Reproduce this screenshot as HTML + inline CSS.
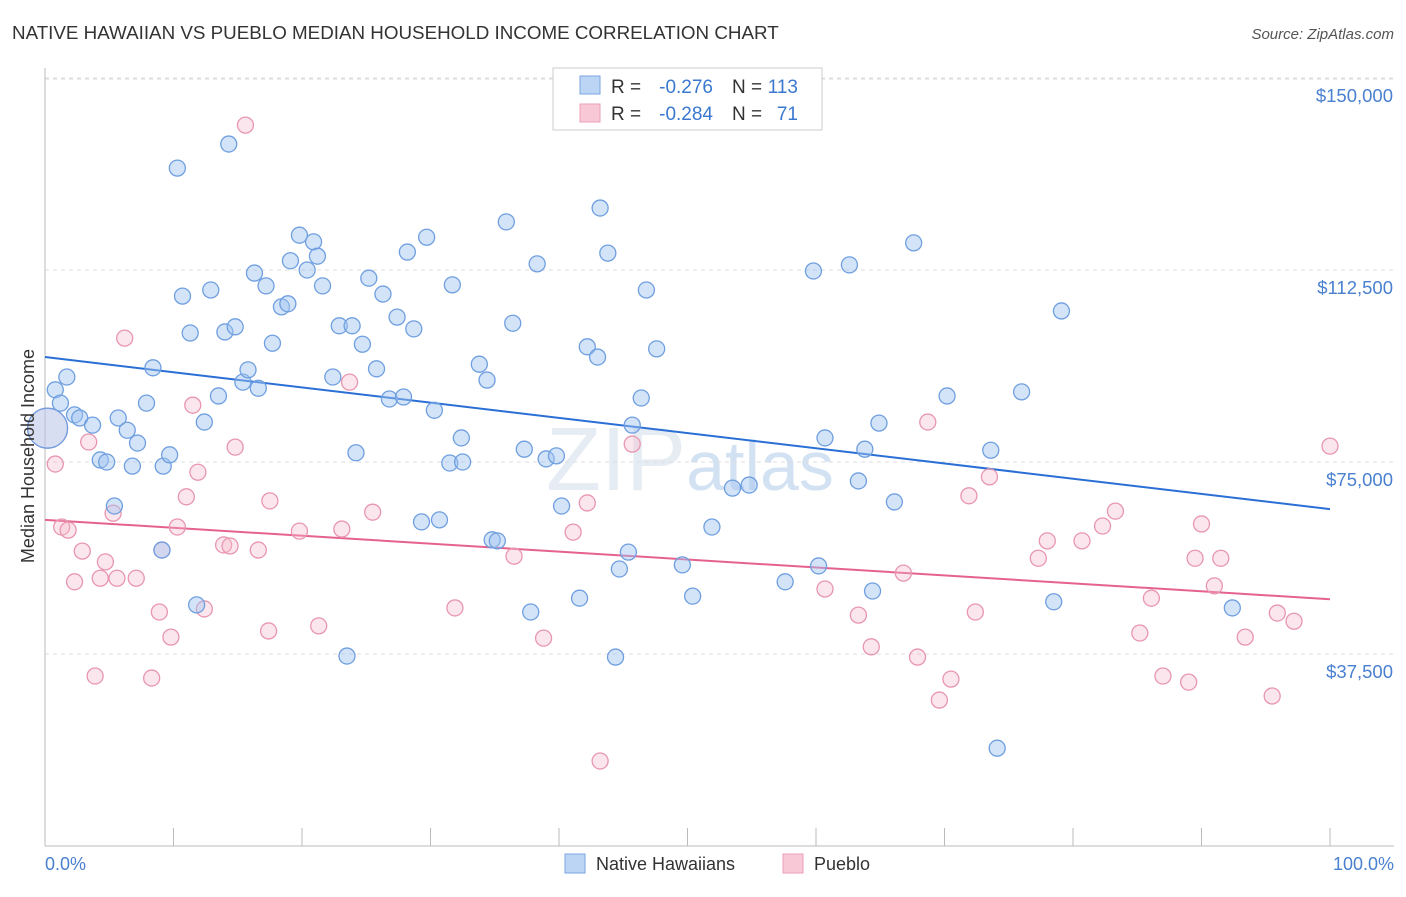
<!DOCTYPE html>
<html><head><meta charset="utf-8"><style>
body{margin:0;background:#fff;font-family:"Liberation Sans",sans-serif;}
svg text{font-family:"Liberation Sans",sans-serif;}
</style></head><body>
<svg id="chart" width="1406" height="892" xmlns="http://www.w3.org/2000/svg">
<text x="12" y="39" font-size="18.8" fill="#333">NATIVE HAWAIIAN VS PUEBLO MEDIAN HOUSEHOLD INCOME CORRELATION CHART</text>
<text x="1394" y="39" font-size="15" fill="#555" text-anchor="end" font-style="italic">Source: ZipAtlas.com</text>
<text x="690" y="490" font-size="90" fill="#e6ecf3" text-anchor="middle" font-family="Liberation Serif">ZIP<tspan font-family="Liberation Sans" font-size="70" fill="#d3e2f3">atlas</tspan></text>
<g id="grid"></g>
<g id="axes"></g>
<g id="lines"></g>
<g id="points"></g>
<text transform="translate(34,456) rotate(-90)" font-size="18" fill="#333" text-anchor="middle">Median Household Income</text>
<text x="45" y="870" font-size="18" fill="#4a80d0">0.0%</text>
<text x="1394" y="870" font-size="18" fill="#4a80d0" text-anchor="end">100.0%</text>
<g>
<rect x="553" y="68" width="269" height="62" fill="#fff" stroke="#ccc"/>
<rect x="580" y="76" width="20" height="18" fill="#bcd5f5" stroke="#7aa6e0"/>
<rect x="580" y="104" width="20" height="18" fill="#f9c8d6" stroke="#eba0b8"/>
<text x="611" y="93" font-size="19" fill="#333">R =</text>
<text x="713" y="93" font-size="19" fill="#3a78d0" text-anchor="end">-0.276</text>
<text x="732" y="93" font-size="19" fill="#333">N =</text>
<text x="798" y="93" font-size="19" fill="#3a78d0" text-anchor="end">113</text>
<text x="611" y="120" font-size="19" fill="#333">R =</text>
<text x="713" y="120" font-size="19" fill="#3a78d0" text-anchor="end">-0.284</text>
<text x="732" y="120" font-size="19" fill="#333">N =</text>
<text x="798" y="120" font-size="19" fill="#3a78d0" text-anchor="end">71</text>
</g>
<g>
<rect x="565" y="854" width="20" height="19" fill="#bcd5f5" stroke="#7aa6e0"/>
<text x="596" y="870" font-size="18" fill="#333">Native Hawaiians</text>
<rect x="783" y="854" width="20" height="19" fill="#f9c8d6" stroke="#eba0b8"/>
<text x="814" y="870" font-size="18" fill="#333">Pueblo</text>
</g>
</svg>
<script>
const yTicks=[37500,75000,112500,150000];
const yTickLabels=["$37,500","$75,000","$112,500","$150,000"];
const xTicks=[0,10,20,30,40,50,60,70,80,90,100];
const blueX=[0.2,0.8,1.7,1.2,2.3,2.7,3.7,4.3,4.8,5.4,5.7,6.4,6.8,7.2,7.9,8.4,9.2,9.1,9.7,10.3,10.7,11.3,11.8,12.4,12.9,13.5,14.0,14.3,14.8,15.4,15.8,16.3,16.6,17.2,17.7,18.4,18.9,19.1,19.8,20.4,20.9,21.2,21.6,22.4,22.9,23.5,23.9,24.2,24.7,25.2,25.8,26.3,26.8,27.4,27.9,28.2,28.7,29.3,29.7,30.3,30.7,31.7,31.5,32.4,32.5,33.8,34.4,34.8,35.2,35.9,36.4,37.3,37.8,38.3,39.0,39.8,40.2,41.6,42.2,43.0,43.2,43.8,44.7,45.4,45.7,46.4,46.8,47.6,44.4,49.6,50.4,51.9,53.5,54.8,57.6,59.8,60.2,60.7,62.6,63.3,63.8,64.4,64.9,66.1,67.6,70.2,73.6,74.1,76.0,78.5,79.1,92.4];
const blueY=[81.6,89.1,91.6,86.5,84.2,83.6,82.2,75.4,75.0,66.4,83.6,81.2,74.2,78.7,86.5,93.4,74.2,57.8,76.4,132.4,107.4,100.2,47.1,82.8,108.6,87.9,100.4,137.1,101.4,90.6,93.0,111.9,89.4,109.4,98.2,105.3,105.9,114.3,119.3,112.5,118.0,115.2,109.4,91.6,101.6,37.1,101.6,76.8,98.0,110.9,93.2,107.8,87.3,103.3,87.7,116.0,101.0,63.3,118.9,85.1,63.7,109.6,74.8,79.7,75.0,94.1,91.0,59.8,59.6,121.9,102.1,77.5,45.7,113.7,75.6,76.2,66.4,48.4,97.5,95.5,124.6,115.8,54.1,57.4,82.2,87.5,108.6,97.1,36.9,54.9,48.8,62.3,69.9,70.5,51.6,112.3,54.7,79.7,113.5,71.3,77.5,49.8,82.6,67.2,117.8,87.9,77.3,19.1,88.7,47.7,104.5,46.5];
const pinkX=[0.2,0.8,1.3,1.8,2.3,2.9,3.4,3.9,4.3,4.7,5.3,5.6,6.2,7.1,8.3,8.9,9.1,9.8,10.3,11.0,11.5,11.9,12.4,13.9,14.4,14.8,15.6,16.6,17.4,17.5,19.8,21.3,23.1,23.7,25.5,31.9,36.5,38.8,41.1,42.2,43.2,45.7,60.7,63.3,64.3,66.8,67.9,68.7,69.6,70.5,71.9,72.4,73.5,77.3,78.0,80.7,82.3,83.3,85.2,86.1,87.0,89.0,89.5,90.0,91.0,91.5,93.4,95.5,95.9,97.2,100.0];
const pinkY=[81.6,74.6,62.3,61.7,51.6,57.6,78.9,33.2,52.3,55.5,65.0,52.3,99.2,52.3,32.8,45.7,57.8,40.8,62.3,68.2,86.1,73.0,46.3,58.8,58.6,77.9,140.8,57.8,42.0,67.4,61.5,43.0,61.9,90.6,65.2,46.5,56.6,40.6,61.3,67.0,16.6,78.5,50.2,45.1,38.9,53.3,36.9,82.8,28.5,32.6,68.4,45.7,72.1,56.2,59.6,59.6,62.5,65.4,41.6,48.4,33.2,32.0,56.2,62.9,50.8,56.2,40.8,29.3,45.5,43.9,78.1];
const blueTrend=[95.5,65.8];
const pinkTrend=[63.7,48.2];
const NS="http://www.w3.org/2000/svg";
const X=p=>45+p*12.85;
const Y=v=>846-v/37.5*192;
function mk(tag,attrs,parent){const e=document.createElementNS(NS,tag);for(const k in attrs)e.setAttribute(k,attrs[k]);parent.appendChild(e);return e;}
const grid=document.getElementById('grid'),axes=document.getElementById('axes'),lines=document.getElementById('lines'),pts=document.getElementById('points');
yTicks.forEach((t,i)=>{
 const y=Y(t/1000);
 const l=mk('line',{x1:45,x2:1394,y1:y,y2:y,stroke:'#dcdcdc','stroke-dasharray':'4,4'},grid);
 
 
 const tx=mk('text',{x:1393,y:y+24,'font-size':18.5,fill:'#4a80d0','text-anchor':'end'},axes);
 tx.textContent=yTickLabels[i];
 
 
});
const tg=mk('line',{x1:45,x2:1394,y1:79,y2:79,stroke:'#dcdcdc','stroke-dasharray':'4,4'},grid);


const ya=mk('line',{x1:45,x2:45,y1:68,y2:846,stroke:'#bbb'},axes);


const xa=mk('line',{x1:45,x2:1394,y1:846,y2:846,stroke:'#bbb'},axes);


xTicks.forEach(t=>{
 const tk=mk('line',{x1:X(t),x2:X(t),y1:828,y2:846,stroke:'#bbb'},axes);
 
 
});
function dots(xs,ys,fill,stroke,name,bigFill){
 xs.forEach((x,i)=>{
  const big=(i===0&&x<0.5);
  const c=mk('circle',{cx:X(x),cy:Y(ys[i]),r:big?20:8,fill:big?bigFill:fill,stroke:stroke,'stroke-width':1.3},pts);
  
  
 });
}
dots(pinkX,pinkY,'rgba(246,182,202,0.35)','#e896b0','pueblo-point','rgba(246,182,202,0.2)');
dots(blueX,blueY,'rgba(160,196,240,0.45)','#6f9fe0','native-hawaiian-point','rgba(170,200,240,0.45)');
const bl=mk('line',{x1:X(0),x2:X(100),y1:Y(blueTrend[0]),y2:Y(blueTrend[1]),stroke:'#2a6fd6','stroke-width':2},lines);


const pl=mk('line',{x1:X(0),x2:X(100),y1:Y(pinkTrend[0]),y2:Y(pinkTrend[1]),stroke:'#e5628e','stroke-width':2},lines);


</script>
</body></html>
